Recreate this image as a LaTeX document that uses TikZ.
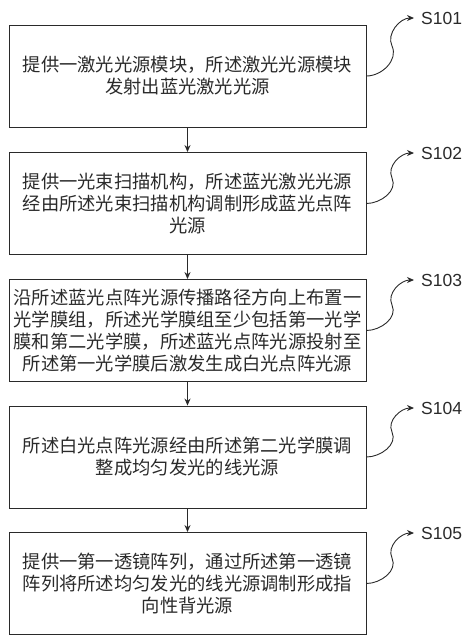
\documentclass[tikz,border=0pt]{standalone}
\usepackage{fontspec}
\setmainfont{Liberation Sans}
\newfontfamily\cjk{Noto Sans CJK SC}
\usetikzlibrary{arrows.meta}
\definecolor{ink}{HTML}{2A2A2A}
\begin{document}
\begin{tikzpicture}[x=1pt,y=1pt,
  stepbox/.style={draw=ink, line width=0.9pt, minimum width=357pt, minimum height=102pt,
    align=center, text=ink, inner sep=0pt, font=\cjk\fontsize{18.3}{22}\selectfont},
  flow/.style={draw=ink, line width=0.9pt, -{Stealth[length=7pt,width=6pt]}},
  conn/.style={draw=ink, line width=0.9pt, -{Stealth[length=7pt,width=6pt]}},
  steplabel/.style={anchor=west, inner sep=0pt, text=ink, font=\fontsize{17.5}{20}\selectfont}]
\useasboundingbox (0,0) rectangle (472,-641);
\node[stepbox] (b1) at (187.5,-76) {提供一激光光源模块，所述激光光源模块\\发射出蓝光激光光源};
\node[stepbox] (b2) at (187.5,-203.5) {提供一光束扫描机构，所述蓝光激光光源\\经由所述光束扫描机构调制形成蓝光点阵\\光源};
\node[stepbox] (b3) at (187.5,-330.5) {沿所述蓝光点阵光源传播路径方向上布置一\\光学膜组，所述光学膜组至少包括第一光学\\膜和第二光学膜，所述蓝光点阵光源投射至\\所述第一光学膜后激发生成白光点阵光源};
\node[stepbox] (b4) at (187.5,-457) {所述白光点阵光源经由所述第二光学膜调\\整成均匀发光的线光源};
\node[stepbox] (b5) at (187.5,-583.5) {提供一第一透镜阵列，通过所述第一透镜\\阵列将所述均匀发光的线光源调制形成指\\向性背光源};
\draw[flow] (b1.south) -- (b2.north);
\draw[flow] (b2.south) -- (b3.north);
\draw[flow] (b3.south) -- (b4.north);
\draw[flow] (b4.south) -- (b5.north);
\node[steplabel] (l1) at (421,-18) {S101};
\node[steplabel] (l2) at (421,-153) {S102};
\node[steplabel] (l3) at (421,-280) {S103};
\node[steplabel] (l4) at (421,-408) {S104};
\node[steplabel] (l5) at (421,-533) {S105};
\coordinate (t1) at (414,-18);
\coordinate (t2) at (414,-153);
\coordinate (t3) at (414,-280);
\coordinate (t4) at (414,-408);
\coordinate (t5) at (414,-533);
\coordinate (m1) at (392,-46);
\coordinate (m2) at (392,-178);
\coordinate (m3) at (392,-305);
\coordinate (m4) at (392,-432);
\coordinate (m5) at (392,-558);
\draw[conn] (b1.east) to[out=0,in=-65] (m1) to[out=115,in=180] (t1);
\draw[conn] (b2.east) to[out=0,in=-65] (m2) to[out=115,in=180] (t2);
\draw[conn] (b3.east) to[out=0,in=-65] (m3) to[out=115,in=180] (t3);
\draw[conn] (b4.east) to[out=0,in=-65] (m4) to[out=115,in=180] (t4);
\draw[conn] (b5.east) to[out=0,in=-65] (m5) to[out=115,in=180] (t5);
\end{tikzpicture}
\end{document}
